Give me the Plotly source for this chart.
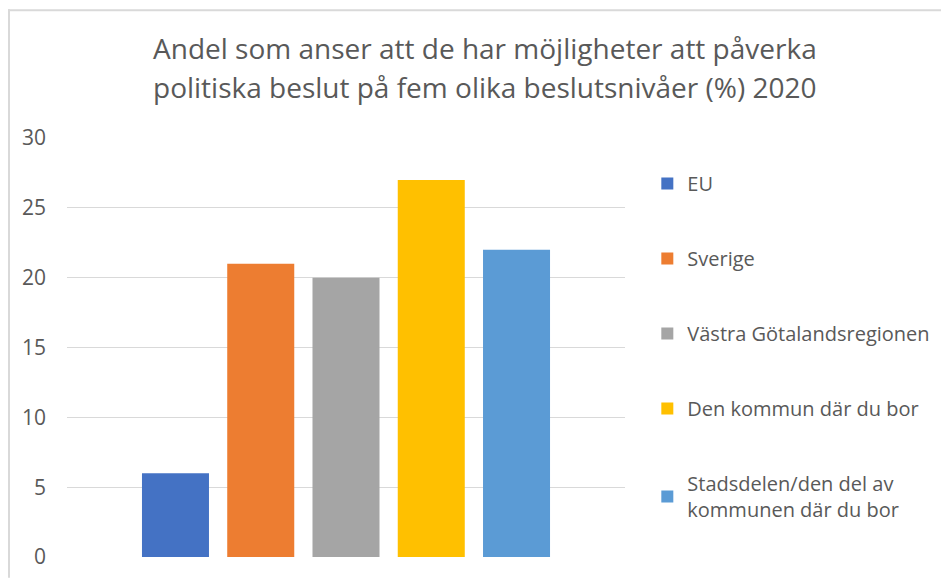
import plotly.graph_objects as go

title_lines = ["Andel som anser att de har möjligheter att påverka",
               "politiska beslut på fem olika beslutsnivåer (%) 2020"]
series_names = ["EU", "Sverige", "Västra Götalandsregionen", "Den kommun där du bor",
                "Stadsdelen/den del av<br>kommunen där du bor"]
series_values = [6, 21, 20, 27, 22]
colors = ["#4472C4", "#ED7D31", "#A5A5A5", "#FFC000", "#5B9BD5"]
category = ["2020"]
y_ticks = [0, 5, 10, 15, 20, 25, 30]

TXT = "#595959"
FONT = "Open Sans"

# page is rendered with an 8px body margin, so the figure is sized/offset accordingly
W, H = 941, 574
L, T, R, B = 59, 130, 324, 21
PW = W - L - R
PH = H - T - B

fig = go.Figure()
for i, (name, val, col) in enumerate(zip(series_names, series_values, colors)):
    fig.add_trace(go.Bar(x=category, y=[val], name=name, marker_color=col,
                         marker_line_width=0, legendgroup=f"g{i}"))

fig.update_layout(
    width=W, height=H,
    margin=dict(l=L, r=R, t=T, b=B),
    paper_bgcolor="white", plot_bgcolor="white",
    barmode="group", bargap=0.236, bargroupgap=0.214,
    showlegend=True,
    legend=dict(x=1.04, xanchor="left", y=0.938, yanchor="top",
                font=dict(family=FONT, size=20, color=TXT),
                tracegroupgap=46, traceorder="grouped",
                bgcolor="rgba(0,0,0,0)"),
    font=dict(family=FONT, color=TXT),
)
fig.update_xaxes(showticklabels=False, showgrid=False, zeroline=False, showline=False)
fig.update_yaxes(range=[0, 30], tickvals=y_ticks, showgrid=True, gridcolor="#D9D9D9",
                 gridwidth=1, zeroline=False, showline=False,
                 tickfont=dict(family=FONT, size=21, color=TXT), ticklabelstandoff=20)

for j, line in enumerate(title_lines):
    ypix = 47 + 40 * j - 8
    fig.add_annotation(text=line, xref="paper", yref="paper",
                       x=(485 - 8 - L) / PW, y=(PH + T - ypix) / PH,
                       xanchor="center", yanchor="middle", showarrow=False,
                       font=dict(family=FONT, size=28, color=TXT))

# chart frame (top and left edges visible)
fig.add_shape(type="line", xref="paper", yref="paper",
              x0=(0 - L) / PW, x1=(W - L) / PW, y0=(PH + T - 1) / PH, y1=(PH + T - 1) / PH,
              line=dict(color="#D9D9D9", width=2))
fig.add_shape(type="line", xref="paper", yref="paper",
              x0=(1 - L) / PW, x1=(1 - L) / PW, y0=(PH + T) / PH, y1=(PH + T - H) / PH,
              line=dict(color="#D9D9D9", width=2))

fig.write_html("out.html")
